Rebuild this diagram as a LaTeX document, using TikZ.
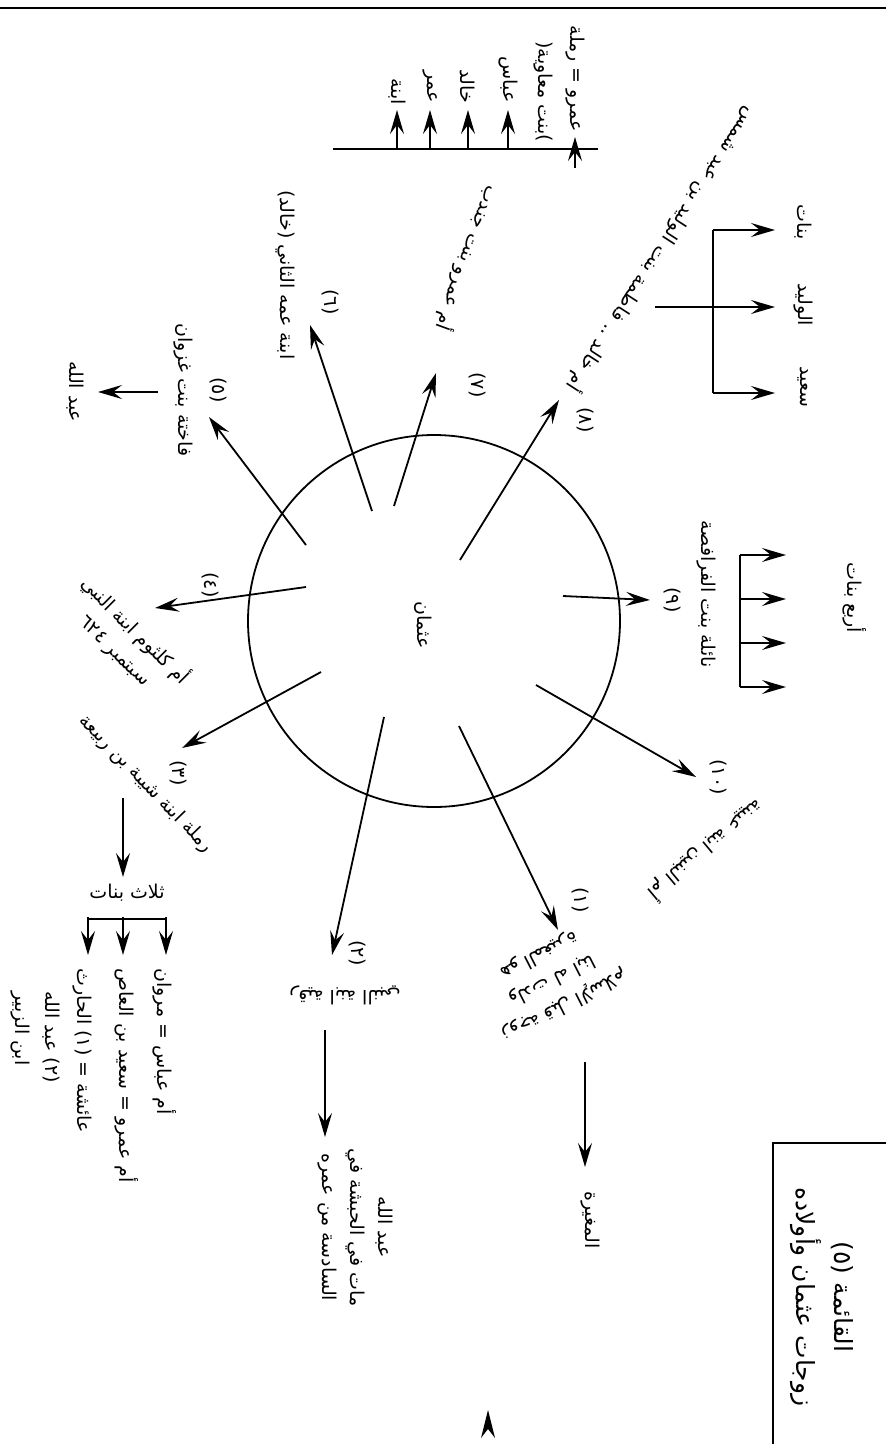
\documentclass[tikz,border=0pt]{standalone}
\usepackage{fontspec}
\usetikzlibrary{arrows.meta}
\newfontfamily\arabicfont[Script=Arabic]{DejaVu Sans}
\TeXXeTstate=1
\newcommand{\AR}[1]{\beginR #1\endR}
\newcommand{\arsize}{\arabicfont\fontsize{19}{28}\selectfont}
\newcommand{\titlesize}{\arabicfont\fontsize{25}{32}\selectfont}
\tikzset{
  lab/.style={font=\arsize, inner sep=1pt, rotate=-90},
  arr/.style={line width=1.8pt, -{Stealth[length=24pt,width=14pt,inset=9pt]}},
  plain/.style={line width=1.8pt},
}
\begin{document}
\begin{tikzpicture}[x=1pt,y=-1pt]
\useasboundingbox (0,0) rectangle (886,1444);
% top rule
\draw[line width=2.6pt] (0,8) -- (886,8);
% title box
\coordinate (tb1) at (773,1444);
\coordinate (tb2) at (773,1143);
\coordinate (tb3) at (886,1143);
\draw[line width=2pt] (tb1) -- (tb2) -- (tb3);
\node[lab, font=\titlesize] (title1) at (842,1297) {\AR{القائمة (٥)}};
\node[lab, font=\titlesize] (title2) at (806,1297) {\AR{زوجات عثمان وأولاده}};

% circle
\node[draw, circle, line width=1.8pt, minimum size=372pt, inner sep=0pt] (circ) at (434,621) {};
\node[lab] (uth) at (423,625) {\AR{عثمان}};

% radial arrows
\coordinate (s9) at (563,596);  \coordinate (t9) at (650,600);
\coordinate (s10) at (536,685); \coordinate (t10) at (696,777);
\coordinate (s1) at (459,726);  \coordinate (t1) at (558,930);
\coordinate (s2) at (384,717);  \coordinate (t2) at (332,955);
\coordinate (s3) at (321,672);  \coordinate (t3) at (182,748);
\coordinate (s4) at (306,587);  \coordinate (t4) at (155,608);
\coordinate (s5) at (306,545);  \coordinate (t5) at (209,417);
\coordinate (s6) at (372,511);  \coordinate (t6) at (310,325);
\coordinate (s7) at (394,506);  \coordinate (t7) at (436,373);
\coordinate (s8) at (460,560);  \coordinate (t8) at (559,400);
\foreach \i in {1,...,10} { \draw[arr] (s\i) -- (t\i); }

% (9)
\node[lab] (n9) at (672,600) {\AR{(٩)}};
\node[lab] (w9) at (706,594) {\AR{نائلة بنت الفرافصة}};
\coordinate (b9a) at (740,555); \coordinate (b9b) at (740,687);
\draw[plain] (b9a) -- (b9b);
\foreach \y [count=\k] in {555,599,643,687} {
  \coordinate (b9s\k) at (740,\y); \coordinate (b9t\k) at (786,\y);
  \draw[arr] (b9s\k) -- (b9t\k);
}
\node[lab] (k9) at (855,598) {\AR{أربع بنات}};

% (10)
\node[lab] (n10) at (718,777) {\AR{(١٠)}};
\node[lab, rotate=-50] (w10) at (706,850) {\AR{أم البنين ابنة عيينة}};

% (1)
\node[lab, rotate=-63, align=center] (w1) at (552,980) {\AR{زوجة قبل الإسلام}\\\AR{ولدت له ابنا}\\\AR{هو المغيرة}};
\node[lab] (n1) at (580,900) {\AR{(١)}};
\coordinate (s1b) at (585,1062); \coordinate (t1b) at (585,1167);
\draw[arr] (s1b) -- (t1b);
\node[lab, anchor=west] (c1) at (590,1190) {\AR{المغيرة}};

% (2)
\node[lab] (n2) at (357,953) {\AR{(٢)}};
\node[lab, rotate=-90] (w2) at (345,995) {\AR{رقية ابنة النبي}};
\coordinate (s2b) at (325,1030); \coordinate (t2b) at (325,1137);
\draw[arr] (s2b) -- (t2b);
\node[lab, anchor=west, align=center] (c2) at (355,1147) {\AR{عبد الله}\\\AR{مات في الحبشة في}\\\AR{السادسة من عمره}};

% stray arrowhead at bottom
\coordinate (sa1) at (488,1410);
\fill (sa1) -- ++(-7,28) -- ++(7,-9) -- ++(7,9) -- cycle;

% (3)
\node[lab] (n3) at (178,773) {\AR{(٣)}};
\node[lab, rotate=44] (w3) at (146,784) {\AR{رملة ابنة شيبة بن ربيعة}};
\coordinate (s3b) at (123,798); \coordinate (t3b) at (123,877);
\draw[arr] (s3b) -- (t3b);
\node[font=\arsize, inner sep=1pt] (k3) at (127,893) {\AR{ثلاث بنات}};
\coordinate (b3a) at (88,919); \coordinate (b3b) at (166,919);
\draw[plain] (b3a) -- (b3b);
\foreach \x [count=\k] in {88,123,166} {
  \coordinate (b3s\k) at (\x,917); \coordinate (b3t\k) at (\x,955);
  \draw[arr] (b3s\k) -- (b3t\k);
}
\node[lab, anchor=west] (c3a) at (165,967) {\AR{أم عباس = مروان}};
\node[lab, anchor=west] (c3b) at (127,967) {\AR{أم عمرو = سعيد بن العاص}};
\node[lab, anchor=west] (c3c) at (82,967) {\AR{عائشة = (١) الحارث}};
\node[lab, anchor=west] (c3d) at (51,990) {\AR{(٢) عبد الله}};
\node[lab, anchor=west] (c3e) at (20,990) {\AR{ابن الزبير}};

% (4)
\node[lab] (n4) at (210,585) {\AR{(٤)}};
\node[lab, rotate=45, align=center] (w4) at (126,640) {\AR{أم كلثوم ابنة النبي}\\\AR{سبتمبر ٦٢٤}};

% (5)
\node[lab] (n5) at (218,390) {\AR{(٥)}};
\node[lab] (w5) at (183,390) {\AR{فاختة بنت غزوان}};
\coordinate (s5b) at (158,392); \coordinate (t5b) at (98,392);
\draw[arr] (s5b) -- (t5b);
\node[lab] (c5) at (75,392) {\AR{عبد الله}};

% (6)
\node[lab] (n6) at (330,302) {\AR{(٦)}};
\node[lab] (w6) at (285,275) {\AR{ابنة عمه الثاني (خالد)}};

% (7)
\node[lab] (n7) at (477,385) {\AR{(٧)}};
\node[lab, rotate=-20] (w7) at (468,258) {\AR{أم عمرو بنت جندب}};
\coordinate (b7a) at (333,149); \coordinate (b7b) at (598,149);
\draw[plain] (b7a) -- (b7b);
\foreach \x [count=\k] in {397,430,468,508} {
  \coordinate (b7s\k) at (\x,149); \coordinate (b7t\k) at (\x,110);
  \draw[arr] (b7s\k) -- (b7t\k);
}
\coordinate (b7s5) at (575,168); \coordinate (b7t5) at (575,137);
\draw[arr] (b7s5) -- (b7t5);
\node[lab, anchor=east] (c7a) at (397,106) {\AR{ابنة}};
\node[lab, anchor=east] (c7b) at (430,104) {\AR{عمر}};
\node[lab, anchor=east] (c7c) at (468,104) {\AR{خالد}};
\node[lab, anchor=east] (c7d) at (508,104) {\AR{عباس}};
\node[lab, anchor=east] (c7e) at (543,143) {(\AR{بنت معاوية})};
\node[lab, anchor=east] (c7f) at (575,133) {\AR{عمرو = رملة}};

% (8)
\node[lab] (n8) at (585,420) {\AR{(٨)}};
\node[lab, rotate=-33] (w8) at (663,250) {\AR{أم خالد .. فاطمة بنت الوليد بن عبد شمس}};
\coordinate (b8a) at (713,230); \coordinate (b8b) at (713,393);
\draw[plain] (b8a) -- (b8b);
\coordinate (b8m) at (655,307);
\foreach \y [count=\k] in {230,307,393} {
  \coordinate (b8s\k) at (713,\y); \coordinate (b8t\k) at (775,\y);
  \draw[arr] (b8s\k) -- (b8t\k);
}
\draw[plain] (b8m) -- (b8s2);
\node[lab] (c8a) at (803,222) {\AR{بنات}};
\node[lab] (c8b) at (803,305) {\AR{الوليد}};
\node[lab] (c8c) at (803,387) {\AR{سعيد}};
\end{tikzpicture}
\end{document}
